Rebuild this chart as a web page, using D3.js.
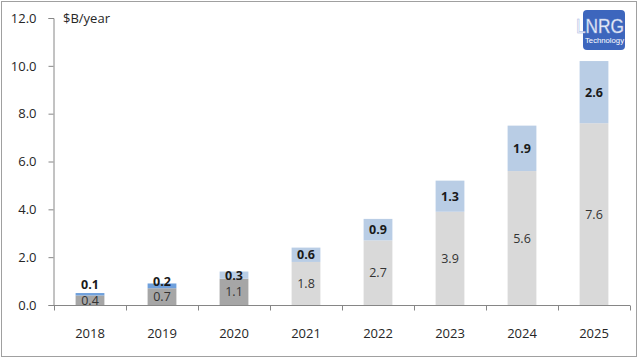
<!DOCTYPE html>
<html>
<head>
<meta charset="utf-8">
<script src="https://cdn.jsdelivr.net/npm/d3@7"></script>
<style>
  body { margin: 0; background: #fff; }
  text { font-family: "Open Sans", "Noto Sans", sans-serif; }
</style>
</head>
<body>
<div id="chart"></div>
<script>
// Data
const years = ["2018", "2019", "2020", "2021", "2022", "2023", "2024", "2025"];
const baseValues = [0.4, 0.7, 1.1, 1.8, 2.7, 3.9, 5.6, 7.6];
const topValues = [0.1, 0.2, 0.3, 0.6, 0.9, 1.3, 1.9, 2.6];
const yTicks = [0, 2, 4, 6, 8, 10, 12];

// Colours: first three years are drawn darker
const baseColor = i => i < 3 ? "#a6a6a6" : "#d9d9d9";
const topColor = i => i < 2 ? "#6fa0dc" : "#b9cde5";

const W = 640, H = 360;
const svg = d3.select("#chart")
  .append("svg")
  .attr("width", W)
  .attr("height", H);

// frame
svg.append("rect")
  .attr("x", 1.5).attr("y", 1.5)
  .attr("width", 635).attr("height", 355)
  .attr("fill", "#fff")
  .attr("stroke", "#a0a0a0");

// Scales
const x = d3.scaleBand().domain(years).range([54, 630])
  .paddingInner(0.6).paddingOuter(0.3);
const xCat = d3.scaleBand().domain(years).range([54, 630]);
const y = d3.scaleLinear().domain([0, 12]).range([305, 18]);

// Y axis
const yAxis = svg.append("g")
  .attr("transform", "translate(53.5,0)")
  .call(d3.axisLeft(y).tickValues(yTicks).tickFormat(d3.format(".1f")).tickSize(5).tickPadding(12));
yAxis.select(".domain").attr("stroke", "#868686");
yAxis.selectAll(".tick line").attr("stroke", "#868686");
yAxis.selectAll(".tick text")
  .attr("font-size", 13).attr("fill", "#262626")
  .style("font-family", '"Open Sans", "Noto Sans", sans-serif');

// X axis: line with ticks at category boundaries
const xg = svg.append("g").attr("transform", "translate(0,305.5)");
xg.append("line")
  .attr("x1", 53).attr("x2", 630)
  .attr("stroke", "#868686");
const bounds = years.map(d => xCat(d)).concat([xCat.range()[1]]);
xg.selectAll(".bt").data(bounds).join("line")
  .attr("x1", d => Math.round(d) + 0.5).attr("x2", d => Math.round(d) + 0.5)
  .attr("y1", 0).attr("y2", 5)
  .attr("stroke", "#868686");
xg.selectAll(".yl").data(years).join("text")
  .attr("x", d => x(d) + x.bandwidth() / 2)
  .attr("y", 32)
  .attr("text-anchor", "middle")
  .attr("font-size", 13)
  .attr("fill", "#262626")
  .text(d => d);

// Bars
const rows = years.map((yr, i) => ({ yr, i, base: baseValues[i], top: topValues[i] }));

svg.selectAll(".base").data(rows).join("rect")
  .attr("x", d => x(d.yr))
  .attr("width", x.bandwidth())
  .attr("y", d => y(d.base))
  .attr("height", d => y(0) - y(d.base))
  .attr("fill", d => baseColor(d.i));

svg.selectAll(".top").data(rows).join("rect")
  .attr("x", d => x(d.yr))
  .attr("width", x.bandwidth())
  .attr("y", d => y(d.base + d.top))
  .attr("height", d => y(d.base) - y(d.base + d.top))
  .attr("fill", d => topColor(d.i));

// Labels (small bars: keep the top label clear of the base label)
const baseLabelY = d => (y(0) + y(d.base)) / 2;
const topLabelY = d => Math.min((y(d.base) + y(d.base + d.top)) / 2, baseLabelY(d) - 15.5);

svg.selectAll(".bl").data(rows).join("text")
  .attr("x", d => x(d.yr) + x.bandwidth() / 2)
  .attr("y", baseLabelY)
  .attr("dy", "0.36em")
  .attr("text-anchor", "middle")
  .attr("font-size", 12.5)
  .attr("fill", "#333")
  .text(d => d3.format(".1f")(d.base));

svg.selectAll(".tl").data(rows).join("text")
  .attr("x", d => x(d.yr) + x.bandwidth() / 2)
  .attr("y", topLabelY)
  .attr("dy", "0.36em")
  .attr("text-anchor", "middle")
  .attr("font-size", 12.5)
  .attr("font-weight", "bold")
  .attr("fill", "#1a1a1a")
  .text(d => d3.format(".1f")(d.top));

// Unit label
svg.append("text")
  .attr("x", 63).attr("y", 23)
  .attr("font-size", 13)
  .attr("fill", "#262626")
  .text("$B/year");

// Logo
const logo = svg.append("g");
logo.append("rect")
  .attr("x", 583).attr("y", 10)
  .attr("width", 42).attr("height", 40)
  .attr("rx", 4)
  .attr("fill", "#3d66bd");
logo.append("text")
  .attr("x", 576).attr("y", 33)
  .attr("font-size", 20)
  .attr("textLength", 48).attr("lengthAdjust", "spacingAndGlyphs")
  .attr("fill", "#f4f6fc")
  .attr("stroke", "#9fb3df").attr("stroke-width", 0.5)
  .style("font-family", '"Liberation Sans", sans-serif')
  .text("LNRG");
logo.append("text")
  .attr("x", 585).attr("y", 43)
  .attr("font-size", 7.5)
  .attr("textLength", 39).attr("lengthAdjust", "spacingAndGlyphs")
  .attr("fill", "#fff")
  .style("font-family", '"Liberation Sans", sans-serif')
  .text("Technology");
</script>
</body>
</html>
